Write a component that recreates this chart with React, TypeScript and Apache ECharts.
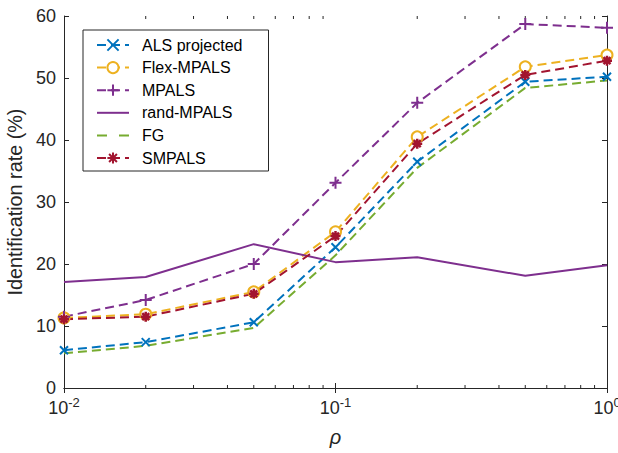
import React, { useEffect, useRef } from "react";
import * as echarts from "echarts";

const rho = [0.01, 0.02, 0.05, 0.1, 0.2, 0.5, 1];
const alsProjected = [6.1, 7.4, 10.6, 22.7, 36.5, 49.4, 50.2];
const flexMpals = [11.3, 11.9, 15.5, 25.2, 40.5, 51.8, 53.7];
const mpals = [11.5, 14.2, 20.0, 33.1, 46.0, 58.7, 58.1];
const randMpals = [17.1, 17.9, 23.2, 20.3, 21.1, 18.1, 19.8];
const fg = [5.6, 6.8, 9.7, 21.4, 35.5, 48.4, 49.6];
const smpals = [11.1, 11.5, 15.2, 24.5, 39.4, 50.5, 52.8];
const minorTicks = [0.02, 0.03, 0.04, 0.05, 0.06, 0.07, 0.08, 0.09, 0.2, 0.3, 0.4, 0.5, 0.6, 0.7, 0.8, 0.9];

const AX = "#262626";
const FONT = "'Liberation Sans', Arial, sans-serif";

const pair = (ys: number[]) => rho.map((x, i) => [x, ys[i]]);

const CROSS = "path://M0,0L10,10M10,0L0,10";
const PLUS = "path://M5,0L5,10M0,5L10,5";
const STAR = "path://M5,0L5,10M0,5L10,5M1.5,1.5L8.5,8.5M8.5,1.5L1.5,8.5";

export default function App() {
  const ref = useRef<HTMLDivElement>(null);
  useEffect(() => {
    const chart = echarts.init(ref.current!, null, { renderer: "svg" });
    const dash = [9, 5];
    const line = (name: string, data: number[], color: string, symbol: string, size: number, dashed: boolean, bw: number) => ({
      name,
      type: "line",
      data: pair(data),
      xAxisIndex: 0,
      yAxisIndex: 0,
      symbol: symbol === "none" ? "circle" : symbol,
      symbolSize: size,
      showSymbol: symbol !== "none",
      lineStyle: { color, width: 2, type: dashed ? dash : "solid" },
      itemStyle: { color, borderColor: color, borderWidth: bw },
      color,
      z: 3,
    });
    const majorTickCfg = { show: true, inside: true, length: 5, lineStyle: { color: AX, width: 1 } };
    const labelRich = {
      b: { fontSize: 18, lineHeight: 20, color: AX, fontFamily: FONT, padding: [4, 0, 0, 0] },
      s: { fontSize: 13, lineHeight: 13, color: AX, fontFamily: FONT, verticalAlign: "top" },
    };
    chart.setOption({
      animation: false,
      backgroundColor: "#fff",
      grid: { left: 64, right: 11, top: 16, bottom: 65, containLabel: false, outerBoundsMode: "none" },
      legend: {
        orient: "vertical",
        left: 83,
        top: 30,
        padding: [7, 26, 5, 13],
        itemGap: 6.6,
        itemWidth: 32,
        itemHeight: 14,
        borderColor: AX,
        borderWidth: 1,
        borderRadius: 0,
        backgroundColor: "#fff",
        textStyle: { fontSize: 16, lineHeight: 16, color: "#000", fontFamily: FONT, padding: [0, 0, 0, 8] },
        data: [
          { name: "ALS projected" },
          { name: "Flex-MPALS" },
          { name: "MPALS" },
          { name: "rand-MPALS", itemStyle: { opacity: 0 } },
          { name: "FG", itemStyle: { opacity: 0 }, lineStyle: { type: [10, 12] } },
          { name: "SMPALS" },
        ],
      },
      xAxis: [
        {
          type: "log",
          logBase: 10,
          min: 0.01,
          max: 1,
          interval: 1,
          position: "bottom",
          name: "ρ",
          nameLocation: "middle",
          nameGap: 39,
          nameTextStyle: { fontSize: 20, fontStyle: "italic", color: AX, fontFamily: FONT },
          axisLine: { lineStyle: { color: AX, width: 1 } },
          axisTick: majorTickCfg,
          splitLine: { show: false },
          axisLabel: {
            margin: 8,
            formatter: (v: number) => `{b|10}{s|${Math.round(Math.log10(v))}}`,
            rich: labelRich,
          },
        },
        {
          type: "log",
          logBase: 10,
          min: 0.01,
          max: 1,
          interval: 1,
          position: "top",
          axisLine: { lineStyle: { color: AX, width: 1 } },
          axisTick: majorTickCfg,
          axisLabel: { show: false },
          splitLine: { show: false },
        },
      ],
      yAxis: [
        {
          type: "value",
          min: 0,
          max: 60,
          interval: 10,
          name: "Identification rate (%)",
          nameLocation: "middle",
          nameGap: 34,
          nameTextStyle: { fontSize: 19.8, color: AX, fontFamily: FONT },
          axisLine: { show: true, lineStyle: { color: AX, width: 1 } },
          axisTick: majorTickCfg,
          splitLine: { show: false },
          axisLabel: { fontSize: 18, color: AX, fontFamily: FONT, margin: 8 },
        },
        {
          type: "value",
          min: 0,
          max: 60,
          interval: 10,
          position: "right",
          axisLine: { show: true, lineStyle: { color: AX, width: 1 } },
          axisTick: majorTickCfg,
          axisLabel: { show: false },
          splitLine: { show: false },
        },
      ],
      series: [
        line("ALS projected", alsProjected, "#0072BD", CROSS, 8, true, 2),
        line("Flex-MPALS", flexMpals, "#EDB120", "emptyCircle", 11, true, 2),
        line("MPALS", mpals, "#7E2F8E", PLUS, 12, true, 2),
        line("rand-MPALS", randMpals, "#7E2F8E", "none", 0, false, 0),
        line("FG", fg, "#77AC30", "none", 0, true, 0),
        line("SMPALS", smpals, "#A2142F", STAR, 10, true, 2.5),
        {
          type: "custom",
          name: "minor",
          xAxisIndex: 0,
          yAxisIndex: 0,
          silent: true,
          z: 1,
          data: minorTicks.map((v) => [v]),
          renderItem: (params: any, api: any) => {
            const x = api.value(0);
            const b = api.coord([x, 0]);
            const t = api.coord([x, 60]);
            return {
              type: "group",
              children: [
                { type: "line", shape: { x1: b[0], y1: b[1], x2: b[0], y2: b[1] - 3 }, style: { stroke: AX, lineWidth: 1 } },
                { type: "line", shape: { x1: t[0], y1: t[1], x2: t[0], y2: t[1] + 3 }, style: { stroke: AX, lineWidth: 1 } },
              ],
            };
          },
        },
      ],
    });
    return () => chart.dispose();
  }, []);
  return <div ref={ref} style={{ position: "fixed", left: 0, top: 0, width: 618, height: 453 }} />;
}
